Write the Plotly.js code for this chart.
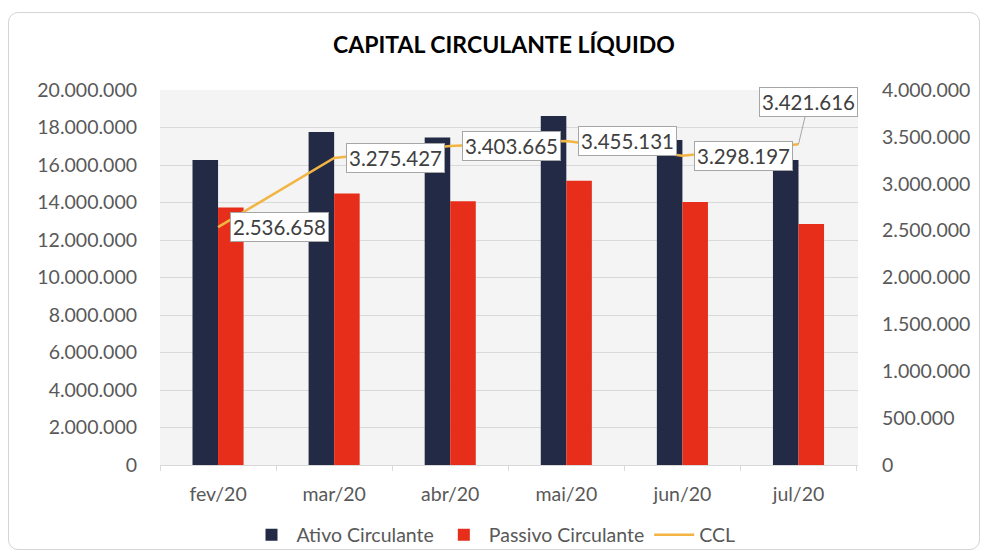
<!DOCTYPE html>
<html>
<head>
<meta charset="utf-8">
<script src="https://cdn.plot.ly/plotly-3.0.1.min.js"></script>
<style>
  body { margin: 0; background: #fff; }
  #wrap { position: relative; width: 987px; height: 555px; }
  #chart { position: absolute; left: 0; top: 0; width: 987px; height: 555px; }
  #frame { position: absolute; left: 8px; top: 12px; width: 970px; height: 536px;
           border: 1px solid #d4d4d4; border-radius: 10px; pointer-events: none; }
</style>
</head>
<body>
<div id="wrap"><div id="chart"></div><div id="frame"></div></div>
<script>
const categories = ["fev/20", "mar/20", "abr/20", "mai/20", "jun/20", "jul/20"];
const ativoCirculante = [16270000, 17760000, 17470000, 18620000, 17330000, 16270000];
const passivoCirculante = [13733342, 14484573, 14066335, 15164869, 14031803, 12848384];
const ccl = [2536658, 3275427, 3403665, 3455131, 3298197, 3421616];
const cclLabels = ["2.536.658", "3.275.427", "3.403.665", "3.455.131", "3.298.197", "3.421.616"];

const FONT = "Lato, 'Open Sans', sans-serif";
const TXT = "#595959";
const FS = 19.5;

const traces = [
  { type: "bar", name: "Ativo Circulante", x: categories, y: ativoCirculante,
    marker: { color: "#222a45" }, yaxis: "y" },
  { type: "bar", name: "Passivo Circulante", x: categories, y: passivoCirculante,
    marker: { color: "#e62e1b" }, yaxis: "y" },
  { type: "scatter", mode: "lines", name: "CCL", x: categories, y: ccl,
    line: { color: "#f2b544", width: 2.5 }, yaxis: "y2" }
];

const annotations = categories.map((c, i) => {
  const last = i === categories.length - 1;
  const a = {
    x: c, y: ccl[i], xref: "x", yref: "y2",
    text: cclLabels[i],
    font: { family: FONT, size: 20.5, color: "#404040" },
    bgcolor: "#ffffff", bordercolor: "#a6a6a6", borderwidth: 1, borderpad: 2
  };
  if (last) {
    Object.assign(a, { showarrow: true, arrowhead: 0, arrowwidth: 1, arrowcolor: "#a6a6a6",
      ax: 10, ay: -42, standoff: 0 });
  } else {
    Object.assign(a, { showarrow: false, xanchor: "left", yanchor: "middle", xshift: 12 });
  }
  return a;
});

const layout = {
  width: 987, height: 555,
  separators: ",.",
  paper_bgcolor: "#ffffff",
  plot_bgcolor: "#f4f4f4",
  margin: { l: 160, r: 129, t: 90, b: 90, autoexpand: false },
  font: { family: FONT, color: TXT, size: FS },
  title: { text: "<b>CAPITAL CIRCULANTE LÍQUIDO</b>", x: 0.5106, xref: "container",
           y: 1 - 45 / 555, yanchor: "middle", font: { family: FONT, size: 23, color: "#000" } },
  barmode: "group", bargap: 0.56, bargroupgap: 0,
  showlegend: true,
  legend: { orientation: "h", xref: "container", x: 0.5, xanchor: "center", y: -0.187, yanchor: "middle",
            font: { family: FONT, size: FS, color: TXT }, traceorder: "normal", itemwidth: 40 },
  xaxis: { type: "category", tickson: "boundaries", ticks: "outside", ticklen: 5,
           tickcolor: "#d9d9d9", showline: true, linecolor: "#d9d9d9", showgrid: false,
           ticklabelstandoff: 12, tickfont: { family: FONT, size: FS, color: TXT } },
  yaxis: { range: [0, 20000000], dtick: 2000000, tickformat: ",d", showgrid: true,
           gridcolor: "#d9d9d9", zeroline: false, ticklabelstandoff: 22,
           tickfont: { family: FONT, size: FS, color: TXT } },
  yaxis2: { range: [0, 4000000], dtick: 500000, tickformat: ",d", overlaying: "y", side: "right",
            showgrid: false, zeroline: false, ticklabelstandoff: 23,
            tickfont: { family: FONT, size: FS, color: TXT } },
  annotations: annotations
};

Plotly.newPlot("chart", traces, layout, { displayModeBar: false, staticPlot: true });
</script>
</body>
</html>
